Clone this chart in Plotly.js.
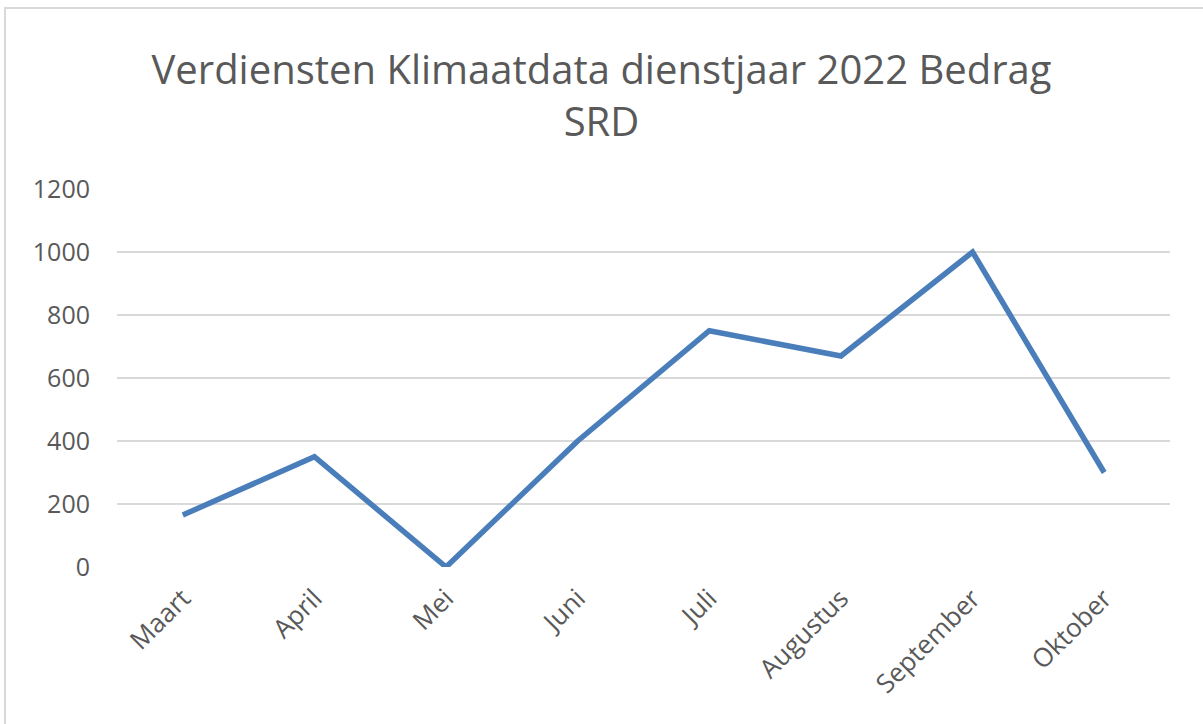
<!DOCTYPE html>
<html><head><meta charset="utf-8">
<script src="https://cdn.plot.ly/plotly-3.0.1.min.js"></script>
<style>
html,body{margin:0;padding:0;background:#fff;}
#wrap{position:relative;width:1203px;height:724px;overflow:hidden;}
#chart{width:1203px;height:724px;}
#frame{position:absolute;left:4px;top:7px;width:1220px;height:740px;border:2px solid #d9d9d9;pointer-events:none;}
</style></head>
<body>
<div id="wrap"><div id="chart"></div><div id="frame"></div></div>
<script>
const months = ["Maart","April","Mei","Juni","Juli","Augustus","September","Oktober"];
const bedrag = [165, 350, 0, 400, 750, 670, 1000, 300];
const yTicks = [0, 200, 400, 600, 800, 1000, 1200];

Plotly.newPlot('chart', [{
  x: months, y: bedrag, type: 'scatter', mode: 'lines',
  line: {color: '#4a7ebb', width: 5.5}
}], {
  width: 1203, height: 724,
  margin: {l: 117, r: 33, t: 189, b: 157},
  paper_bgcolor: '#fff', plot_bgcolor: '#fff',
  showlegend: false,
  font: {family: 'Open Sans, sans-serif', color: '#595959'},
  title: {text: 'Verdiensten Klimaatdata dienstjaar 2022 Bedrag<br>SRD', x: 0.5, xanchor: 'center', y: 0.884, yanchor: 'top',
    font: {size: 40, color: '#595959', family: 'Open Sans, sans-serif'}},
  xaxis: {type: 'category', tickangle: -45, showgrid: false, zeroline: false, showline: false,
    ticks: '', tickfont: {size: 26, color: '#595959'}, ticklabelstandoff: 10, range: [-0.5, 7.5], fixedrange: true},
  yaxis: {range: [0, 1200], tickvals: yTicks, ticktext: yTicks.map(String), showgrid: true,
    gridcolor: '#d9d9d9', gridwidth: 2, zeroline: false, showline: false, ticks: '',
    tickfont: {size: 25, color: '#595959'}, ticklabelstandoff: 26, fixedrange: true}
}, {displayModeBar: false, staticPlot: true});
</script>
</body></html>
